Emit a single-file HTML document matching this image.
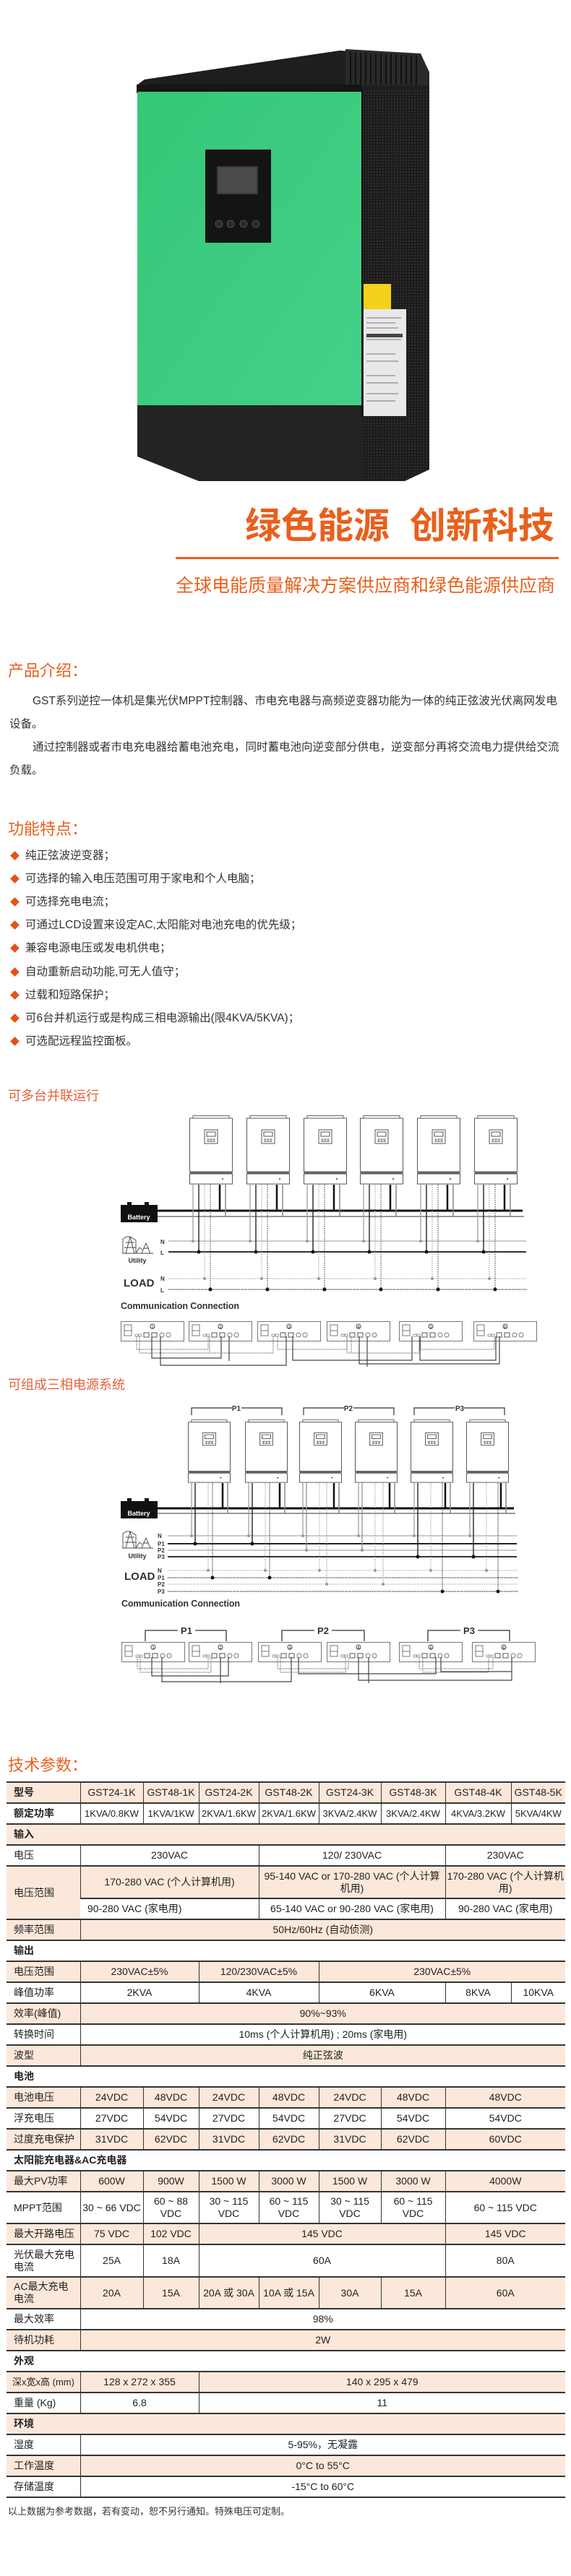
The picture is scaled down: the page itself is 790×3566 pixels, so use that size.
<!DOCTYPE html>
<html><head><meta charset="utf-8">
<style>
*{margin:0;padding:0;box-sizing:border-box}
body{width:790px;height:3566px;background:#fff;position:relative;overflow:hidden;font-family:"Liberation Sans","Noto Sans CJK SC",sans-serif;color:#333}
.abs{position:absolute;white-space:nowrap}
.h{color:#e8601c;font-size:22px;left:11px}
.p{font-size:15.5px;left:13px;width:775px;line-height:32px;white-space:normal}
.b{font-size:15.5px;left:13px;line-height:20px}
.b i{display:inline-block;width:9px;height:9px;background:#e35316;transform:rotate(45deg);margin:0 10px 1px 3px;vertical-align:middle}
.dt{color:#e4603a;font-size:18px;left:11px}
table{position:absolute;left:9px;top:2466px;width:773px;border-collapse:collapse;table-layout:fixed;font-size:14px;color:#222}
td{border-top:2px solid #333;border-bottom:2px solid #333;border-left:1px solid #333;text-align:center;padding:0;line-height:17px}
td:first-child{border-left:none;text-align:left;padding-left:10px}
tr{height:29px}
.k{background:#fce8da}
.s td{font-weight:bold;text-align:left;padding-left:10px}
.bd{font-weight:bold}
</style></head><body>

<svg class="abs" style="left:0;top:0" width="790" height="3566" viewBox="0 0 790 3566">
<defs>
<pattern id="dots" width="4" height="4" patternUnits="userSpaceOnUse"><rect width="4" height="4" fill="#1c1c1c"/><circle cx="2" cy="2" r="0.9" fill="#3a3a3a"/></pattern>
<linearGradient id="gr" x1="0" y1="0" x2="1" y2="1"><stop offset="0" stop-color="#34c878"/><stop offset="1" stop-color="#45d088"/></linearGradient>
<g id="u">
<rect x="5" y="0.5" width="50" height="3.5" fill="#fff" stroke="#666"/>
<rect x="0.5" y="4" width="59" height="74" fill="#fff" stroke="#555"/>
<rect x="0.5" y="78" width="59" height="3" fill="#666"/>
<rect x="0.5" y="81" width="59" height="14" fill="#fff" stroke="#555"/>
<rect x="21" y="20" width="18" height="19" fill="#fff" stroke="#555"/>
<rect x="24" y="23" width="12" height="6" fill="none" stroke="#555"/>
<path d="M24 33h12M24 36h12M26 33v4M30 33v4M34 33v4" stroke="#555" stroke-width="0.8"/>
<circle cx="46" cy="88" r="1" fill="#333"/>
</g>
<g id="w1">
<line x1="5" y1="1640" x2="5" y2="1718" stroke="#999" stroke-width="1.2"/><circle cx="5" cy="1718" r="2" fill="#999"/>
<line x1="13" y1="1640" x2="13" y2="1733" stroke="#222" stroke-width="1.4"/><circle cx="13" cy="1733" r="2.5" fill="#111"/>
<line x1="21" y1="1640" x2="21" y2="1770" stroke="#999" stroke-dasharray="1.5 1.5"/><circle cx="21" cy="1770" r="2" fill="#999"/>
<line x1="29" y1="1640" x2="29" y2="1785" stroke="#333" stroke-dasharray="1.5 1.5"/><circle cx="29" cy="1785" r="2.5" fill="#111"/>
<line x1="42" y1="1640" x2="42" y2="1676" stroke="#111" stroke-width="2.5"/>
<line x1="50" y1="1640" x2="50" y2="1684" stroke="#888" stroke-width="1.5"/>
</g>
<g id="w2">
<line x1="5" y1="2053" x2="5" y2="2126" stroke="#999" stroke-width="1.2"/><circle cx="5" cy="2126" r="2" fill="#999"/>
<line x1="28" y1="2053" x2="28" y2="2174" stroke="#999" stroke-dasharray="1.5 1.5"/><circle cx="28" cy="2174" r="2" fill="#999"/>
<line x1="48" y1="2053" x2="48" y2="2088" stroke="#111" stroke-width="2.5"/>
<line x1="55" y1="2053" x2="55" y2="2095" stroke="#888" stroke-width="1.5"/>
</g>
<g id="cb">
<rect x="0.5" y="0.5" width="87" height="27" fill="#fff" stroke="#777"/>
<rect x="5" y="5" width="10" height="8" fill="none" stroke="#777"/><rect x="5" y="13" width="10" height="7" fill="none" stroke="#777"/>
<rect x="20" y="18" width="4" height="3" fill="none" stroke="#777" stroke-width="0.7"/><rect x="25" y="18" width="4" height="3" fill="none" stroke="#777" stroke-width="0.7"/>
<rect x="32" y="16" width="7" height="6" fill="none" stroke="#555"/><rect x="43" y="16" width="7" height="6" fill="none" stroke="#555"/>
<circle cx="57" cy="19" r="3" fill="none" stroke="#777"/><circle cx="66" cy="19" r="3" fill="none" stroke="#777"/>
<circle cx="44" cy="7" r="3" fill="none" stroke="#555"/>
</g>
</defs>

<polygon points="189,118 200,110 470,70 582,76 594,100 594,129 189,129" fill="#1e1e1e"/>
<polygon points="478,68 582,74 594,100 594,118 478,118" fill="#2a2a2a"/>
<path d="M485 72v45M492 72v45M499 73v44M506 73v44M513 74v43M520 74v43M527 74v43M534 75v42M541 75v42M548 75v42M555 76v41M562 76v41M569 76v41M576 77v40" stroke="#111" stroke-width="2"/>
<rect x="189" y="117" width="312" height="12" fill="#151515"/>
<rect x="500" y="125" width="94" height="525" fill="url(#dots)"/>
<rect x="500" y="125" width="2" height="525" fill="#0d0d0d"/>
<rect x="190" y="127" width="310" height="450" fill="url(#gr)"/>
<polygon points="190,561 500,561 500,666 275,666 190,632" fill="#232323"/>
<polygon points="500,577 594,577 594,650 560,666 500,666" fill="url(#dots)"/>
<rect x="284" y="207" width="91" height="129" fill="#141414"/>
<rect x="300" y="230" width="57" height="39" fill="#3a3a3a"/>
<rect x="302" y="232" width="53" height="35" fill="#4a4a4a"/>
<circle cx="303" cy="310" r="5" fill="#2a2a2a" stroke="#777" stroke-width="0.6"/>
<circle cx="319" cy="310" r="5" fill="#2a2a2a" stroke="#777" stroke-width="0.6"/>
<circle cx="337" cy="310" r="5" fill="#2a2a2a" stroke="#777" stroke-width="0.6"/>
<circle cx="354" cy="310" r="5" fill="#2a2a2a" stroke="#777" stroke-width="0.6"/>
<rect x="503" y="393" width="38" height="35" fill="#f2d21a"/>
<rect x="503" y="428" width="59" height="148" fill="#e8e8e8"/>
<path d="M507 440h48M507 447h40M507 454h44M507 470h48M507 490h40M507 500h44M507 520h40M507 530h44M507 545h44M507 555h40" stroke="#777" stroke-width="1"/>
<rect x="507" y="462" width="50" height="5" fill="#444"/>

<use href="#u" x="262" y="1544"/><use href="#u" x="341" y="1544"/><use href="#u" x="420" y="1544"/>
<use href="#u" x="498" y="1544"/><use href="#u" x="577" y="1544"/><use href="#u" x="656" y="1544"/>
<line x1="218" y1="1676" x2="723" y2="1676" stroke="#111" stroke-width="3"/>
<line x1="218" y1="1684" x2="725" y2="1684" stroke="#999" stroke-width="2"/>
<line x1="233" y1="1718" x2="728" y2="1718" stroke="#aaa" stroke-width="1.2"/>
<line x1="233" y1="1733" x2="728" y2="1733" stroke="#333" stroke-width="2"/>
<line x1="233" y1="1770" x2="729" y2="1770" stroke="#aaa" stroke-dasharray="1.5 1"/>
<line x1="233" y1="1785" x2="729" y2="1785" stroke="#444" stroke-width="1.3" stroke-dasharray="1.5 1"/>
<use href="#w1" x="262"/><use href="#w1" x="341"/><use href="#w1" x="420"/>
<use href="#w1" x="498"/><use href="#w1" x="577"/><use href="#w1" x="656"/>
<rect x="167" y="1668" width="51" height="24" fill="#111"/>
<rect x="176" y="1664" width="6" height="5" fill="#111"/><rect x="200" y="1664" width="6" height="5" fill="#111"/>
<text x="192" y="1688" fill="#fff" font-size="9" font-weight="bold" text-anchor="middle">Battery</text>
<g stroke="#444" fill="none" stroke-width="0.9">
<path d="M169 1735h43M170 1735v-20l5 -3h5l8 5v18M180 1712l-6 23M180 1712l6 23M174 1720h12M172 1727h16M196 1735l6 -14l6 14M198 1728h8M188 1735l5 -8l4 3"/>
</g>
<text x="190" y="1748" font-size="9" font-weight="bold" text-anchor="middle" fill="#333">Utility</text>
<text x="222" y="1722" font-size="8" font-weight="bold" fill="#333">N</text>
<text x="222" y="1737" font-size="8" font-weight="bold" fill="#333">L</text>
<text x="171" y="1781" font-size="15" font-weight="bold" fill="#333">LOAD</text>
<text x="222" y="1773" font-size="8" font-weight="bold" fill="#333">N</text>
<text x="222" y="1789" font-size="8" font-weight="bold" fill="#333">L</text>
<text x="167" y="1812" font-size="12.5" font-weight="bold" fill="#333" textLength="164">Communication Connection</text>
<use href="#cb" x="167" y="1829"/><use href="#cb" x="261" y="1829"/><use href="#cb" x="356" y="1829"/>
<use href="#cb" x="452" y="1829"/><use href="#cb" x="552" y="1829"/><use href="#cb" x="655" y="1829"/>
<g font-size="7" fill="#333" text-anchor="middle">
<text x="211" y="1839">①</text><text x="305" y="1839">②</text><text x="400" y="1839">③</text><text x="496" y="1839">④</text><text x="596" y="1839">⑤</text><text x="699" y="1839">⑥</text>
</g>
<g fill="none" stroke="#666" stroke-width="1" stroke-dasharray="1.5 1">
<path d="M189 1850v18h99v-18M193 1850v23h185v-23M290 1850v23M384 1850v18h96v-18M480 1850v23h100v-23M582 1850v18h102v-18M486 1850v23"/>
</g>
<g fill="none" stroke="#444" stroke-width="1.2">
<path d="M210 1850v30h96v-30M222 1850v40h174v-40M317 1850v34M405 1850v33h165v-33M497 1850v38h194v-38M581 1850v33h105v-33M508 1850v42"/>
</g>

<g fill="none" stroke="#333" stroke-width="1.2">
<path d="M265 1959v-10h56M334 1949h56v10M420 1959v-10h56M489 1949h56v10M573 1959v-10h56M642 1949h56v10"/>
</g>
<g font-size="10" font-weight="bold" fill="#333" text-anchor="middle">
<text x="327" y="1953">P1</text><text x="482" y="1953">P2</text><text x="636" y="1953">P3</text>
</g>
<use href="#u" transform="translate(260,1965) scale(0.983,0.917)"/>
<use href="#u" transform="translate(339,1965) scale(0.983,0.917)"/>
<use href="#u" transform="translate(414,1965) scale(0.983,0.917)"/>
<use href="#u" transform="translate(491,1965) scale(0.983,0.917)"/>
<use href="#u" transform="translate(568,1965) scale(0.983,0.917)"/>
<use href="#u" transform="translate(645,1965) scale(0.983,0.917)"/>
<line x1="218" y1="2088" x2="711" y2="2088" stroke="#111" stroke-width="3"/>
<line x1="218" y1="2095" x2="713" y2="2095" stroke="#999" stroke-width="2"/>
<line x1="232" y1="2126" x2="715" y2="2126" stroke="#aaa" stroke-width="1.2"/>
<line x1="232" y1="2137" x2="715" y2="2137" stroke="#222" stroke-width="2"/>
<line x1="232" y1="2146" x2="715" y2="2146" stroke="#aaa" stroke-width="1.2"/>
<line x1="232" y1="2155" x2="715" y2="2155" stroke="#333" stroke-width="2"/>
<g stroke-dasharray="1.5 1">
<line x1="232" y1="2174" x2="717" y2="2174" stroke="#aaa"/>
<line x1="232" y1="2184" x2="717" y2="2184" stroke="#444" stroke-width="1.3"/>
<line x1="232" y1="2193" x2="717" y2="2193" stroke="#aaa"/>
<line x1="232" y1="2203" x2="717" y2="2203" stroke="#444" stroke-width="1.3"/>
</g>
<use href="#w2" x="260"/><use href="#w2" x="339"/><use href="#w2" x="414"/><use href="#w2" x="491"/><use href="#w2" x="568"/><use href="#w2" x="645"/>
<g stroke-width="1.4">
<line x1="270" y1="2053" x2="270" y2="2137" stroke="#222"/><circle cx="270" cy="2137" r="2.5" fill="#111"/>
<line x1="349" y1="2053" x2="349" y2="2137" stroke="#222"/><circle cx="349" cy="2137" r="2.5" fill="#111"/>
<line x1="424" y1="2053" x2="424" y2="2146" stroke="#999"/><circle cx="424" cy="2146" r="2" fill="#999"/>
<line x1="501" y1="2053" x2="501" y2="2146" stroke="#999"/><circle cx="501" cy="2146" r="2" fill="#999"/>
<line x1="578" y1="2053" x2="578" y2="2155" stroke="#222"/><circle cx="578" cy="2155" r="2.5" fill="#111"/>
<line x1="655" y1="2053" x2="655" y2="2155" stroke="#222"/><circle cx="655" cy="2155" r="2.5" fill="#111"/>
</g>
<g stroke-dasharray="1.5 1" stroke-width="1">
<line x1="294" y1="2053" x2="294" y2="2184" stroke="#333"/>
<line x1="373" y1="2053" x2="373" y2="2184" stroke="#333"/>
<line x1="452" y1="2053" x2="452" y2="2193" stroke="#999"/>
<line x1="530" y1="2053" x2="530" y2="2193" stroke="#999"/>
<line x1="612" y1="2053" x2="612" y2="2203" stroke="#333"/>
<line x1="689" y1="2053" x2="689" y2="2203" stroke="#333"/>
</g>
<circle cx="294" cy="2184" r="2.5" fill="#111"/><circle cx="373" cy="2184" r="2.5" fill="#111"/>
<circle cx="452" cy="2193" r="2" fill="#999"/><circle cx="530" cy="2193" r="2" fill="#999"/>
<circle cx="612" cy="2203" r="2.5" fill="#111"/><circle cx="689" cy="2203" r="2.5" fill="#111"/>
<rect x="167" y="2078" width="51" height="24" fill="#111"/>
<rect x="176" y="2074" width="6" height="5" fill="#111"/><rect x="200" y="2074" width="6" height="5" fill="#111"/>
<text x="192" y="2098" fill="#fff" font-size="9" font-weight="bold" text-anchor="middle">Battery</text>
<g stroke="#444" fill="none" stroke-width="0.9">
<path d="M169 2143h43M170 2143v-20l5 -3h5l8 5v18M180 2120l-6 23M180 2120l6 23M174 2128h12M172 2135h16M196 2143l6 -14l6 14M198 2136h8M188 2143l5 -8l4 3"/>
</g>
<text x="190" y="2157" font-size="9" font-weight="bold" text-anchor="middle" fill="#333">Utility</text>
<g font-size="8" font-weight="bold" fill="#333">
<text x="218" y="2129">N</text><text x="218" y="2140">P1</text><text x="218" y="2149">P2</text><text x="218" y="2158">P3</text>
<text x="218" y="2177">N</text><text x="218" y="2187">P1</text><text x="218" y="2196">P2</text><text x="218" y="2206">P3</text>
</g>
<text x="172" y="2187" font-size="15" font-weight="bold" fill="#333">LOAD</text>
<text x="168" y="2224" font-size="12.5" font-weight="bold" fill="#333" textLength="164">Communication Connection</text>
<g fill="none" stroke="#333" stroke-width="1.3">
<path d="M201 2272v-15h45M270 2257h43v15M390 2272v-15h45M459 2257h45v15M592 2272v-15h45M661 2257h44v15"/>
</g>
<g font-size="13" font-weight="bold" fill="#333" text-anchor="middle">
<text x="258" y="2262">P1</text><text x="447" y="2262">P2</text><text x="649" y="2262">P3</text>
</g>
<use href="#cb" x="168" y="2273"/><use href="#cb" x="261" y="2273"/><use href="#cb" x="357" y="2273"/>
<use href="#cb" x="452" y="2273"/><use href="#cb" x="552" y="2273"/><use href="#cb" x="653" y="2273"/>
<g font-size="7" fill="#333" text-anchor="middle">
<text x="212" y="2283">①</text><text x="305" y="2283">②</text><text x="401" y="2283">③</text><text x="496" y="2283">④</text><text x="596" y="2283">⑤</text><text x="697" y="2283">⑥</text>
</g>
<g fill="none" stroke="#666" stroke-width="1" stroke-dasharray="1.5 1">
<path d="M190 2294v16h98v-16M194 2294v21h98v-21M384 2294v16h98v-16M388 2294v21h90v-21M580 2294v16h102v-16M585 2294v21h91v-21"/>
</g>
<g fill="none" stroke="#444" stroke-width="1.2">
<path d="M210 2294v26h106v-26M224 2294v34h179v-34M305 2294v36M413 2294v23h190v-23M496 2294v32h212v-32M610 2294v20h98M510 2294v36"/>
</g>
</svg>

<div class="abs" style="left:339px;top:688px;font-size:50px;font-weight:bold;color:#e8601c">绿色能源&nbsp;&nbsp;创新科技</div>
<div class="abs" style="left:243px;top:771px;width:530px;height:3px;background:#e8601c"></div>
<div class="abs" style="left:243px;top:795px;font-size:25px;color:#e8601c;line-height:32px">全球电能质量解决方案供应商和绿色能源供应商</div>

<div class="abs h" style="top:911px">产品介绍：</div>
<div class="abs p" style="top:955px;width:760px;text-indent:32px">GST系列逆控一体机是集光伏MPPT控制器、市电充电器与高频逆变器功能为一体的纯正弦波光伏离网发电设备。</div>
<div class="abs p" style="top:1019px;text-indent:32px">通过控制器或者市电充电器给蓄电池充电，同时蓄电池向逆变部分供电，逆变部分再将交流电力提供给交流负载。</div>

<div class="abs h" style="top:1130px">功能特点：</div>
<div class="abs b" style="top:1175px"><i></i>纯正弦波逆变器；</div>
<div class="abs b" style="top:1207px"><i></i>可选择的输入电压范围可用于家电和个人电脑；</div>
<div class="abs b" style="top:1239px"><i></i>可选择充电电流；</div>
<div class="abs b" style="top:1271px"><i></i>可通过LCD设置来设定AC,太阳能对电池充电的优先级；</div>
<div class="abs b" style="top:1303px"><i></i>兼容电源电压或发电机供电；</div>
<div class="abs b" style="top:1336px"><i></i>自动重新启动功能,可无人值守；</div>
<div class="abs b" style="top:1368px"><i></i>过载和短路保护；</div>
<div class="abs b" style="top:1400px"><i></i>可6台并机运行或是构成三相电源输出(限4KVA/5KVA)；</div>
<div class="abs b" style="top:1432px"><i></i>可选配远程监控面板。</div>

<div class="abs dt" style="top:1503px">可多台并联运行</div>
<div class="abs dt" style="top:1903px">可组成三相电源系统</div>

<div class="abs h" style="top:2426px">技术参数：</div>

<table>
<colgroup><col style="width:102px"><col style="width:87px"><col style="width:77px"><col style="width:83px"><col style="width:83px"><col style="width:86px"><col style="width:89px"><col style="width:91px"><col style="width:75px"></colgroup>
<tr class="k"><td class="bd">型号</td><td>GST24-1K</td><td>GST48-1K</td><td>GST24-2K</td><td>GST48-2K</td><td>GST24-3K</td><td>GST48-3K</td><td>GST48-4K</td><td>GST48-5K</td></tr>
<tr style="font-size:13px"><td class="bd" style="font-size:14px">额定功率</td><td>1KVA/0.8KW</td><td>1KVA/1KW</td><td>2KVA/1.6KW</td><td>2KVA/1.6KW</td><td>3KVA/2.4KW</td><td>3KVA/2.4KW</td><td>4KVA/3.2KW</td><td>5KVA/4KW</td></tr>
<tr class="k s"><td colspan="9">输入</td></tr>
<tr><td>电压</td><td colspan="3">230VAC</td><td colspan="3">120/ 230VAC</td><td colspan="2">230VAC</td></tr>
<tr style="height:45px" class="k"><td rowspan="2">电压范围</td><td colspan="3">170-280 VAC (个人计算机用)</td><td colspan="3">95-140 VAC or 170-280 VAC (个人计算机用)</td><td colspan="2">170-280 VAC (个人计算机用)</td></tr>
<tr><td colspan="3">90-280 VAC (家电用)</td><td colspan="3">65-140 VAC or 90-280 VAC (家电用)</td><td colspan="2">90-280 VAC (家电用)</td></tr>
<tr class="k"><td>频率范围</td><td colspan="8">50Hz/60Hz (自动侦测)</td></tr>
<tr class="s"><td colspan="9">输出</td></tr>
<tr class="k"><td>电压范围</td><td colspan="2">230VAC±5%</td><td colspan="2">120/230VAC±5%</td><td colspan="4">230VAC±5%</td></tr>
<tr><td>峰值功率</td><td colspan="2">2KVA</td><td colspan="2">4KVA</td><td colspan="2">6KVA</td><td>8KVA</td><td>10KVA</td></tr>
<tr class="k"><td>效率(峰值)</td><td colspan="8">90%~93%</td></tr>
<tr><td>转换时间</td><td colspan="8">10ms (个人计算机用) ; 20ms (家电用)</td></tr>
<tr class="k"><td>波型</td><td colspan="8">纯正弦波</td></tr>
<tr class="s"><td colspan="9">电池</td></tr>
<tr class="k"><td>电池电压</td><td>24VDC</td><td>48VDC</td><td>24VDC</td><td>48VDC</td><td>24VDC</td><td>48VDC</td><td colspan="2">48VDC</td></tr>
<tr><td>浮充电压</td><td>27VDC</td><td>54VDC</td><td>27VDC</td><td>54VDC</td><td>27VDC</td><td>54VDC</td><td colspan="2">54VDC</td></tr>
<tr class="k"><td>过度充电保护</td><td>31VDC</td><td>62VDC</td><td>31VDC</td><td>62VDC</td><td>31VDC</td><td>62VDC</td><td colspan="2">60VDC</td></tr>
<tr class="s"><td colspan="9">太阳能充电器&amp;AC充电器</td></tr>
<tr class="k"><td>最大PV功率</td><td>600W</td><td>900W</td><td>1500 W</td><td>3000 W</td><td>1500 W</td><td>3000 W</td><td colspan="2">4000W</td></tr>
<tr style="height:44px"><td>MPPT范围</td><td>30 ~ 66 VDC</td><td>60 ~ 88<br>VDC</td><td>30 ~ 115<br>VDC</td><td>60 ~ 115<br>VDC</td><td>30 ~ 115<br>VDC</td><td>60 ~ 115<br>VDC</td><td colspan="2">60 ~ 115 VDC</td></tr>
<tr class="k"><td>最大开路电压</td><td>75 VDC</td><td>102 VDC</td><td colspan="4">145 VDC</td><td colspan="2">145 VDC</td></tr>
<tr style="height:45px"><td>光伏最大充电<br>电流</td><td>25A</td><td>18A</td><td colspan="4">60A</td><td colspan="2">80A</td></tr>
<tr style="height:44px" class="k"><td>AC最大充电<br>电流</td><td>20A</td><td>15A</td><td>20A 或 30A</td><td>10A 或 15A</td><td>30A</td><td>15A</td><td colspan="2">60A</td></tr>
<tr><td>最大效率</td><td colspan="8">98%</td></tr>
<tr class="k"><td>待机功耗</td><td colspan="8">2W</td></tr>
<tr class="s"><td colspan="9">外观</td></tr>
<tr class="k"><td style="font-size:13px;padding-left:8px;white-space:nowrap">深x宽x高 (mm)</td><td colspan="2">128 x 272 x 355</td><td colspan="6">140 x 295 x 479</td></tr>
<tr><td>重量 (Kg)</td><td colspan="2">6.8</td><td colspan="6">11</td></tr>
<tr class="k s"><td colspan="9">环境</td></tr>
<tr><td>湿度</td><td colspan="8">5-95%，无凝露</td></tr>
<tr class="k"><td>工作温度</td><td colspan="8">0°C to 55°C</td></tr>
<tr><td>存储温度</td><td colspan="8">-15°C to 60°C</td></tr>
</table>

<div class="abs" style="left:11px;top:3466px;font-size:13px;color:#333">以上数据为参考数据，若有变动，恕不另行通知。特殊电压可定制。</div>
</body></html>
